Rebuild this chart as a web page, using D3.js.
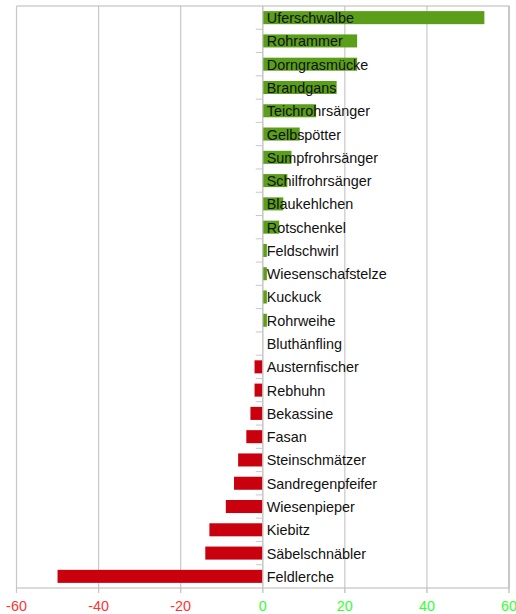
<!DOCTYPE html>
<html><head><meta charset="utf-8">
<script src="https://cdn.jsdelivr.net/npm/d3@7"></script>
<style>body{margin:0;background:#fff}svg{display:block}</style>
</head><body>
<script>
const categories = ["Uferschwalbe","Rohrammer","Dorngrasmücke","Brandgans","Teichrohrsänger","Gelbspötter","Sumpfrohrsänger","Schilfrohrsänger","Blaukehlchen","Rotschenkel","Feldschwirl","Wiesenschafstelze","Kuckuck","Rohrweihe","Bluthänfling","Austernfischer","Rebhuhn","Bekassine","Fasan","Steinschmätzer","Sandregenpfeifer","Wiesenpieper","Kiebitz","Säbelschnäbler","Feldlerche"];
const values = [54,23,23,18,13,9,7,6,5,4,1,1,1,1,0,-2,-2,-3,-4,-6,-7,-9,-13,-14,-50];
const xTicks = [-60,-40,-20,0,20,40,60];

const W=516,H=614;
const m={left:16.5,right:7,top:6,bottom:26};
const svg=d3.select("body").append("svg").attr("width",W).attr("height",H);
const x=d3.scaleLinear().domain([-60,60]).range([m.left,W-m.right]);
const y=d3.scaleBand().domain(categories).range([m.top,H-m.bottom]).paddingInner(0.44).paddingOuter(0.22);
const yb=d3.scaleBand().domain(categories).range([m.top,H-m.bottom]);

// grid
svg.append("g").selectAll("line").data(xTicks).join("line")
  .attr("x1",d=>x(d)).attr("x2",d=>x(d)).attr("y1",m.top).attr("y2",H-m.bottom+5)
  .attr("stroke","#c8c8c8").attr("stroke-width",1.2);
// border top/right
svg.append("path").attr("d",`M${x(-60)},${m.top}H${x(60)}V${H-m.bottom}`).attr("fill","none").attr("stroke","#b8b8b8").attr("stroke-width",1.2);
// bottom axis line
svg.append("line").attr("x1",x(-60)).attr("x2",x(60)).attr("y1",H-m.bottom).attr("y2",H-m.bottom).attr("stroke","#b8b8b8").attr("stroke-width",1.2);

// bars
svg.append("g").selectAll("rect").data(categories).join("rect")
  .attr("x",(d,i)=>x(Math.min(0,values[i])))
  .attr("width",(d,i)=>Math.abs(x(values[i])-x(0)))
  .attr("y",d=>y(d)).attr("height",y.bandwidth())
  .attr("fill",(d,i)=>values[i]>=0?"#5a9e1a":"#c9000e");

// y axis at zero with category boundary ticks
svg.append("line").attr("x1",x(0)).attr("x2",x(0)).attr("y1",m.top).attr("y2",H-m.bottom).attr("stroke","#c8c8c8").attr("stroke-width",1.2);
svg.append("g").selectAll("line").data(categories.slice(1)).join("line")
  .attr("x1",x(0)-7).attr("x2",x(0)).attr("y1",d=>yb(d)).attr("y2",d=>yb(d))
  .attr("stroke","#c8c8c8").attr("stroke-width",1);

// labels
svg.append("g").selectAll("text").data(categories).join("text")
  .attr("x",x(0)+4).attr("y",d=>yb(d)+yb.bandwidth()/2).attr("dy","0.38em")
  .attr("font-family","Liberation Sans, Arial, sans-serif").attr("font-size",14.4).attr("fill","#111")
  .text(d=>d);

// x axis ticks & labels
svg.append("g").selectAll("line").data(xTicks).join("line")
  .attr("x1",d=>x(d)).attr("x2",d=>x(d)).attr("y1",H-m.bottom).attr("y2",H-m.bottom+5)
  .attr("stroke","#c8c8c8");
svg.append("g").selectAll("text").data(xTicks).join("text")
  .attr("x",d=>x(d)).attr("y",H-3).attr("text-anchor","middle")
  .attr("font-family","Liberation Sans, Arial, sans-serif").attr("font-size",14.4)
  .attr("fill",d=>d<0?"#ff3333":"#33ff33")
  .text(d=>d);
</script>
</body></html>
